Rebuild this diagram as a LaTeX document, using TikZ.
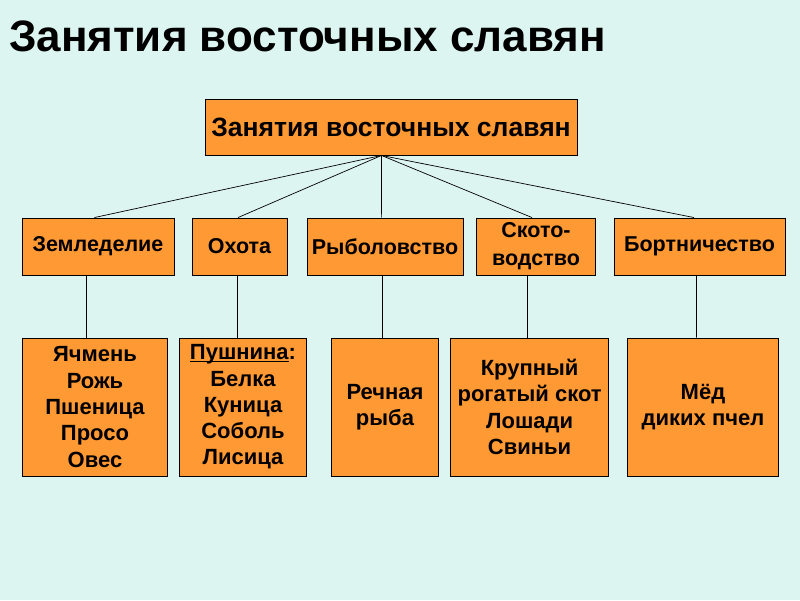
\documentclass[tikz,border=0pt]{standalone}
\usepackage{fontspec}
\setmainfont{Liberation Sans}
\definecolor{bg}{RGB}{221,245,240}
\definecolor{boxorange}{RGB}{255,153,51}
\newcommand\myul[1]{\setbox0\hbox{#1}\rlap{\rule[-2.4pt]{\wd0}{1.4pt}}\box0}
\tikzset{
  box/.style={draw=black, line width=0.9pt, fill=boxorange, inner sep=0pt, align=center, font=\bfseries},
  lvltwo/.style={box, minimum height=57pt, font=\fontsize{21.5}{28}\selectfont\bfseries},
  lvlthree/.style={box, minimum height=138pt, font=\fontsize{22}{26.3}\selectfont\bfseries,
    execute at begin node={\rule{0pt}{21pt}}},
  conn/.style={draw=black, line width=0.7pt}
}
\begin{document}
\begin{tikzpicture}[x=1pt,y=-1pt]
\fill[bg] (0,0) rectangle (800,600);
\useasboundingbox (0,0) rectangle (800,600);
\node[anchor=base west, inner sep=0pt, font=\fontsize{44}{50}\selectfont\bfseries] (title) at (9,51.5) {Занятия восточных славян};

\node[box, minimum width=372pt, minimum height=56pt, font=\fontsize{26.5}{30}\selectfont\bfseries] (top) at (391,127) {Занятия восточных славян};
\coordinate (apex) at ([xshift=-9.5pt]top.south);

\node[lvltwo, minimum width=152pt] (z) at (98,246.5) {Земледелие};
\node[lvltwo, minimum width=95pt] (o) at (239.5,246.5) {Охота};
\node[lvltwo, minimum width=156pt] (r) at (385,246.5) {Рыболовство};
\node[lvltwo, minimum width=119pt] (s) at (536,246.5) {Ското-\\водство};
\node[lvltwo, minimum width=171pt] (b) at (699.5,246.5) {Бортничество};

\node[lvlthree, minimum width=145pt] (z2) at (95,407) {Ячмень\\Рожь\\Пшеница\\Просо\\Овес};
\node[lvlthree, minimum width=127pt] (o2) at (243,407) {\myul{Пушнина}:\\Белка\\Куница\\Соболь\\Лисица};
\node[lvlthree, minimum width=107pt] (r2) at (385,407) {Речная\\рыба};
\node[lvlthree, minimum width=158pt] (s2) at (529.6,407) {Крупный\\рогатый скот\\Лошади\\Свиньи};
\node[lvlthree, minimum width=151pt] (b2) at (703,407) {Мёд\\диких пчел};

\draw[conn] (apex) -- ([xshift=-3.6pt]z.north);
\draw[conn] (apex) -- ([xshift=-1.5pt]o.north);
\draw[conn] (apex) -- ([xshift=-3.4pt]r.north);
\draw[conn] (apex) -- ([xshift=-4pt]s.north);
\draw[conn] (apex) -- ([xshift=-5.5pt]b.north);

\draw[conn] ([xshift=-12pt]z.south) -- ([xshift=-9pt]z2.north);
\draw[conn] ([xshift=-2.5pt]o.south) -- ([xshift=-6pt]o2.north);
\draw[conn] ([xshift=-3pt]r.south) -- ([xshift=-3pt]r2.north);
\draw[conn] ([xshift=-9pt]s.south) -- ([xshift=-2.6pt]s2.north);
\draw[conn] ([xshift=-3pt]b.south) -- ([xshift=-6.6pt]b2.north);
\end{tikzpicture}
\end{document}
